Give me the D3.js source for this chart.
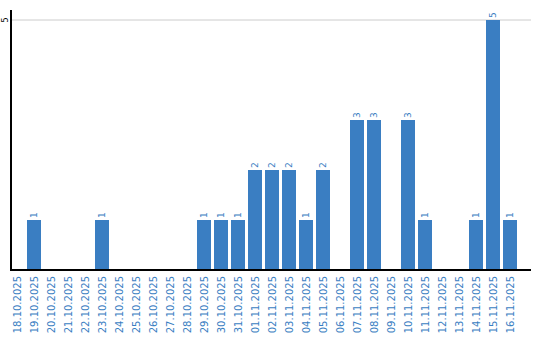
<!DOCTYPE html>
<html>
<head>
<meta charset="utf-8">
<script src="https://cdn.jsdelivr.net/npm/d3@7"></script>
<style>
  body { margin: 0; background: #fff; }
  text { font-family: "DejaVu Sans", Verdana, sans-serif; }
</style>
</head>
<body>
<div id="chart"></div>
<script>
// daily counts
const days = ["18.10.2025","19.10.2025","20.10.2025","21.10.2025","22.10.2025","23.10.2025",
  "24.10.2025","25.10.2025","26.10.2025","27.10.2025","28.10.2025","29.10.2025","30.10.2025",
  "31.10.2025","01.11.2025","02.11.2025","03.11.2025","04.11.2025","05.11.2025","06.11.2025",
  "07.11.2025","08.11.2025","09.11.2025","10.11.2025","11.11.2025","12.11.2025","13.11.2025",
  "14.11.2025","15.11.2025","16.11.2025"];
const counts = [0,1,0,0,0,1,0,0,0,0,0,1,1,1,2,2,2,1,2,0,3,3,0,3,1,0,0,1,5,1];
const yTicks = [5];

const width = 540, height = 340;
const blue = "#3a7ec2";

const svg = d3.select("#chart").append("svg")
  .attr("width", width)
  .attr("height", height);

const x = d3.scaleBand()
  .domain(days)
  .range([8.5, 518.5])
  .paddingInner(3 / 17)
  .paddingOuter(1.5 / 17);

const y = d3.scaleLinear()
  .domain([0, 5])
  .range([270, 20]);

// grid line
svg.selectAll("line.grid")
  .data(yTicks)
  .enter().append("line")
  .attr("x1", 11).attr("x2", 531)
  .attr("y1", d => y(d)).attr("y2", d => y(d))
  .attr("stroke", "#cccccc")
  .attr("stroke-width", 1);

// y tick labels
svg.selectAll("text.ytick")
  .data(yTicks)
  .enter().append("text")
  .attr("transform", d => `translate(5, ${y(d)}) rotate(-90)`)
  .attr("text-anchor", "middle")
  .attr("dominant-baseline", "central")
  .attr("font-size", 8)
  .attr("fill", "#000")
  .text(d => d);

// bars
svg.selectAll("rect.bar")
  .data(days.map((d, i) => ({day: d, v: counts[i]})).filter(d => d.v > 0))
  .enter().append("rect")
  .attr("x", d => x(d.day))
  .attr("y", d => y(d.v))
  .attr("width", x.bandwidth())
  .attr("height", d => y(0) - y(d.v))
  .attr("fill", blue);

// value labels
svg.selectAll("text.val")
  .data(days.map((d, i) => ({day: d, v: counts[i]})).filter(d => d.v > 0))
  .enter().append("text")
  .attr("transform", d => `translate(${x(d.day) + x.bandwidth() / 2}, ${y(d.v) - 2}) rotate(-90)`)
  .attr("text-anchor", "start")
  .attr("dominant-baseline", "central")
  .attr("font-size", 9)
  .attr("fill", blue)
  .text(d => d.v);

// axes
svg.append("line")
  .attr("x1", 11).attr("x2", 11)
  .attr("y1", 10).attr("y2", 271)
  .attr("stroke", "#000").attr("stroke-width", 2);
svg.append("line")
  .attr("x1", 10).attr("x2", 531)
  .attr("y1", 270).attr("y2", 270)
  .attr("stroke", "#000").attr("stroke-width", 2);

// x labels
svg.selectAll("text.xlab")
  .data(days)
  .enter().append("text")
  .attr("transform", d => `translate(${x(d) + x.bandwidth() / 2}, 276) rotate(-90)`)
  .attr("text-anchor", "end")
  .attr("dominant-baseline", "central")
  .attr("font-size", 10)
  .attr("fill", blue)
  .text(d => d);
</script>
</body>
</html>
